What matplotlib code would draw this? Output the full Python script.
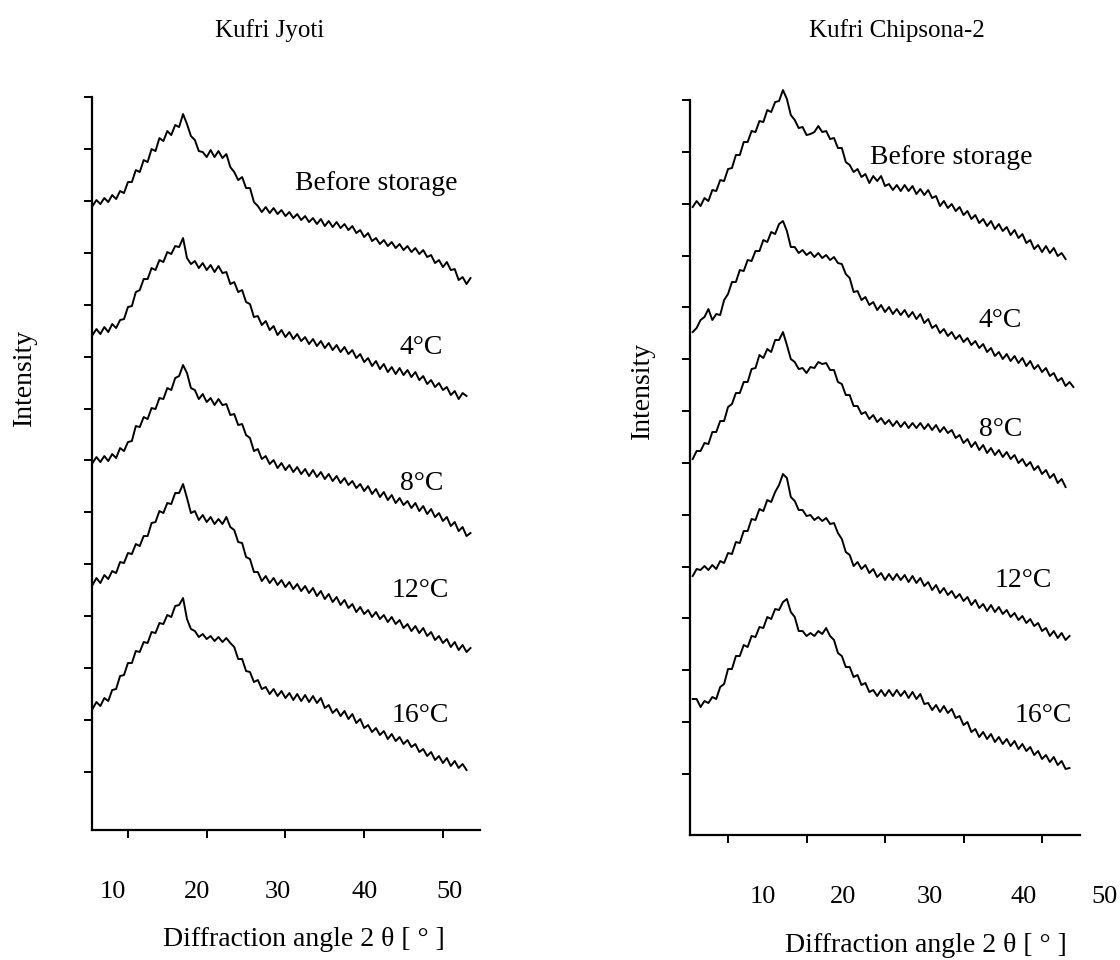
import numpy as np
import matplotlib
matplotlib.use("Agg")
import matplotlib.pyplot as plt
import matplotlib.transforms as mtransforms

plt.rcParams['font.family'] = ['Liberation Serif', 'DejaVu Serif']

# Diffraction angle sampled every 0.5 deg starting at 5.5 deg
angle_start = 5.5
angle_step = 0.5

# Kufri Jyoti, stacked intensities (a.u.)
jyoti_before = [624, 630, 626, 632, 628, 635, 631, 639, 637, 648, 648, 660, 658, 670, 668, 681, 679,
                692, 689, 699, 695, 705, 703, 716, 706, 694, 690, 679, 678, 673, 680, 673, 679, 672,
                676, 663, 658, 650, 653, 642, 642, 628, 624, 618, 623, 617, 622, 616, 620, 614, 618,
                612, 616, 610, 614, 608, 612, 606, 611, 604, 609, 603, 608, 602, 606, 600, 604, 597,
                600, 593, 597, 589, 592, 586, 590, 584, 588, 582, 586, 580, 584, 578, 582, 576, 580,
                573, 575, 567, 570, 563, 568, 560, 561, 550, 553, 546, 552]
jyoti_4c = [495, 501, 496, 503, 498, 506, 502, 510, 511, 523, 524, 538, 540, 551, 551, 562, 560, 570,
            568, 578, 576, 584, 583, 592, 572, 566, 569, 562, 567, 560, 565, 558, 564, 557, 558, 546,
            548, 538, 540, 528, 526, 513, 514, 505, 509, 500, 504, 495, 500, 493, 498, 491, 496, 489,
            493, 486, 491, 484, 489, 482, 487, 480, 485, 478, 483, 476, 480, 472, 476, 468, 472, 464,
            469, 461, 466, 458, 463, 456, 462, 455, 460, 453, 458, 450, 454, 446, 450, 443, 447, 440,
            443, 435, 439, 431, 437, 434]
jyoti_8c = [367, 373, 368, 374, 369, 376, 372, 382, 379, 388, 389, 404, 403, 413, 411, 422, 421, 432,
            431, 442, 440, 452, 454, 465, 457, 442, 440, 431, 436, 428, 432, 425, 431, 425, 426, 415,
            416, 405, 406, 395, 392, 379, 381, 371, 374, 366, 370, 362, 367, 360, 365, 358, 363, 356,
            361, 354, 360, 353, 358, 351, 356, 349, 354, 347, 352, 345, 349, 342, 346, 339, 344, 336,
            341, 333, 338, 330, 335, 327, 332, 325, 329, 322, 327, 319, 324, 316, 321, 313, 317, 309,
            313, 304, 308, 299, 303, 294, 297]
jyoti_12c = [245, 252, 247, 255, 251, 259, 257, 268, 267, 277, 276, 286, 284, 294, 294, 307, 308, 319,
             317, 327, 326, 337, 337, 346, 332, 317, 319, 310, 315, 308, 313, 306, 311, 306, 313, 303,
             300, 288, 287, 273, 271, 258, 258, 249, 254, 247, 252, 245, 250, 243, 248, 241, 246, 239,
             244, 237, 242, 234, 239, 231, 236, 228, 233, 225, 230, 222, 226, 218, 223, 216, 220, 213,
             218, 211, 215, 208, 213, 206, 210, 202, 206, 199, 204, 197, 202, 194, 198, 190, 194, 187,
             191, 183, 188, 180, 185, 178, 182]
jyoti_16c = [121, 128, 124, 132, 129, 140, 141, 154, 155, 167, 167, 179, 178, 188, 187, 198, 197, 207,
             206, 215, 213, 224, 225, 232, 211, 201, 199, 193, 196, 191, 194, 189, 193, 188, 192, 187,
             183, 171, 171, 159, 158, 148, 150, 141, 143, 136, 141, 134, 139, 132, 137, 130, 136, 129,
             135, 128, 134, 127, 132, 122, 125, 117, 121, 114, 119, 111, 116, 107, 111, 102, 105, 98,
             102, 95, 99, 91, 96, 89, 93, 86, 90, 83, 86, 78, 81, 74, 78, 70, 74, 67, 72, 64, 69, 62,
             66, 60]

# Kufri Chipsona-2, stacked intensities (a.u.)
chipsona_before = [628, 634, 629, 637, 634, 645, 644, 655, 654, 666, 667, 680, 680, 693, 693, 704, 703,
                   714, 713, 725, 723, 733, 734, 745, 736, 720, 715, 707, 708, 700, 701, 703, 709, 703,
                   704, 696, 697, 687, 687, 673, 670, 663, 666, 658, 661, 652, 659, 654, 659, 649, 651,
                   645, 650, 644, 650, 644, 649, 641, 646, 640, 645, 637, 639, 629, 634, 627, 631, 624,
                   628, 620, 624, 616, 620, 612, 616, 609, 614, 606, 611, 604, 608, 600, 605, 597, 601,
                   592, 595, 586, 590, 583, 589, 582, 587, 579, 582, 576]
chipsona_4c = [503, 507, 515, 518, 526, 515, 521, 520, 535, 541, 553, 553, 565, 564, 575, 574, 584, 584,
               595, 593, 603, 601, 611, 614, 604, 588, 588, 582, 585, 580, 583, 578, 582, 577, 580, 575,
               578, 572, 571, 561, 557, 543, 544, 535, 538, 530, 533, 525, 530, 523, 528, 521, 526, 520,
               525, 518, 523, 516, 521, 512, 516, 507, 510, 502, 506, 499, 503, 496, 500, 493, 497, 490,
               494, 487, 491, 483, 487, 479, 483, 476, 481, 474, 479, 472, 477, 469, 474, 466, 470, 463,
               467, 459, 462, 454, 457, 449, 453, 448]
chipsona_8c = [376, 384, 384, 392, 391, 403, 403, 414, 414, 428, 431, 442, 442, 453, 453, 466, 467, 480,
               477, 486, 483, 495, 495, 503, 490, 476, 473, 466, 467, 462, 468, 467, 473, 471, 472, 465,
               465, 453, 451, 440, 440, 429, 429, 421, 423, 416, 420, 413, 417, 411, 415, 409, 414, 408,
               413, 407, 412, 407, 412, 406, 411, 405, 410, 403, 408, 402, 405, 397, 400, 392, 396, 388,
               393, 385, 390, 382, 387, 380, 385, 378, 383, 376, 380, 372, 376, 369, 373, 365, 369, 361,
               365, 357, 361, 352, 356, 348]
chipsona_12c = [259, 266, 265, 269, 265, 270, 266, 274, 272, 282, 281, 293, 292, 304, 304, 316, 315, 326,
                324, 335, 333, 343, 350, 361, 357, 338, 334, 325, 325, 319, 320, 315, 318, 314, 317, 311,
                312, 302, 296, 283, 280, 269, 273, 266, 270, 262, 266, 258, 262, 255, 261, 255, 261, 255,
                260, 253, 259, 252, 257, 249, 253, 245, 250, 242, 247, 240, 244, 237, 241, 234, 238, 230,
                235, 227, 231, 224, 230, 223, 228, 221, 225, 218, 222, 215, 219, 212, 216, 209, 212, 204,
                207, 199, 204, 197, 202, 195, 199]
chipsona_16c = [136, 136, 128, 134, 132, 138, 136, 148, 151, 166, 166, 179, 179, 190, 188, 199, 198, 208,
                207, 218, 216, 226, 225, 233, 236, 223, 218, 204, 204, 199, 202, 199, 204, 201, 207, 199,
                195, 182, 179, 168, 168, 158, 160, 150, 152, 143, 145, 139, 145, 139, 145, 139, 145, 139,
                144, 137, 143, 136, 141, 131, 132, 125, 130, 123, 129, 122, 126, 117, 119, 110, 113, 103,
                106, 98, 103, 96, 101, 93, 98, 91, 96, 89, 94, 86, 91, 84, 88, 80, 84, 76, 80, 73, 78, 70,
                74, 66, 67]

curve_labels = ['Before storage', '4°C', '8°C', '12°C', '16°C']
x_ticks = [10, 20, 30, 40, 50]
x_tick_text = ['10', '20', '30', '40', '50']


def angles(values):
    return angle_start + angle_step * np.arange(len(values))


fig = plt.figure(figsize=(11.2, 9.6), dpi=100)

panels = [
    dict(title='Kufri Jyoti', rect=[0.0821, 0.1354, 0.3464, 0.7635], xlim=(5.43, 54.7), ylim=(0, 733),
         yticks=np.linspace(58, 733, 14), curves=[jyoti_before, jyoti_4c, jyoti_8c, jyoti_12c, jyoti_16c],
         label_xy=[(41.5, 647), (47.3, 483), (47.3, 347), (47.1, 240), (47.1, 115)],
         tick_text_x=[8.1, 18.8, 29.0, 40.1, 50.9],
         title_xy=(0.459, 1.091), xlabel_xy=(0.546, -0.150), ylabel_xy=(-0.173, 0.618)),
    dict(title='Kufri Chipsona-2', rect=[0.6161, 0.1302, 0.3482, 0.7656], xlim=(5.16, 54.84), ylim=(0, 735),
         yticks=np.linspace(61, 735, 14),
         curves=[chipsona_before, chipsona_4c, chipsona_8c, chipsona_12c, chipsona_16c],
         label_xy=[(38.5, 678), (44.7, 515), (44.7, 406), (47.6, 255), (50.1, 120)],
         tick_text_x=[14.5, 24.6, 35.7, 47.6, 58.0],
         title_xy=(0.53, 1.095), xlabel_xy=(0.605, -0.150), ylabel_xy=(-0.123, 0.605)),
]

for p in panels:
    ax = fig.add_axes(p['rect'])
    for vals in p['curves']:
        ax.plot(angles(vals), vals, color='black', lw=1.4, clip_on=False)
    for text, (lx, ly) in zip(curve_labels, p['label_xy']):
        ax.text(lx, ly, text, fontsize=20, ha='center', va='center')

    ax.set_xlim(*p['xlim'])
    ax.set_ylim(*p['ylim'])
    for side in ['top', 'right']:
        ax.spines[side].set_visible(False)
    for side in ['left', 'bottom']:
        ax.spines[side].set_linewidth(1.6)

    ax.set_yticks(p['yticks'])
    ax.set_yticklabels([])
    ax.set_xticks(x_ticks)
    ax.set_xticklabels([])
    ax.tick_params(direction='out', length=6, width=1.4)

    # tick numbers sit a little off the tick marks in the original
    trans = mtransforms.blended_transform_factory(ax.transData, ax.transAxes)
    for tx, tt in zip(p['tick_text_x'], x_tick_text):
        ax.text(tx, -0.085, tt, transform=trans, fontsize=19, ha='center', va='center', clip_on=False)

    ax.set_xlabel('Diffraction angle 2 θ [ ° ]', fontsize=20)
    ax.xaxis.set_label_coords(*p['xlabel_xy'])
    ax.xaxis.label.set_va('center')
    ax.set_ylabel('Intensity', fontsize=20)
    ax.yaxis.set_label_coords(*p['ylabel_xy'])
    ax.yaxis.label.set_va('center')
    ax.text(p['title_xy'][0], p['title_xy'][1], p['title'], transform=ax.transAxes,
            fontsize=18, ha='center', va='center')

fig.savefig('out.png', dpi=100, facecolor='white')
